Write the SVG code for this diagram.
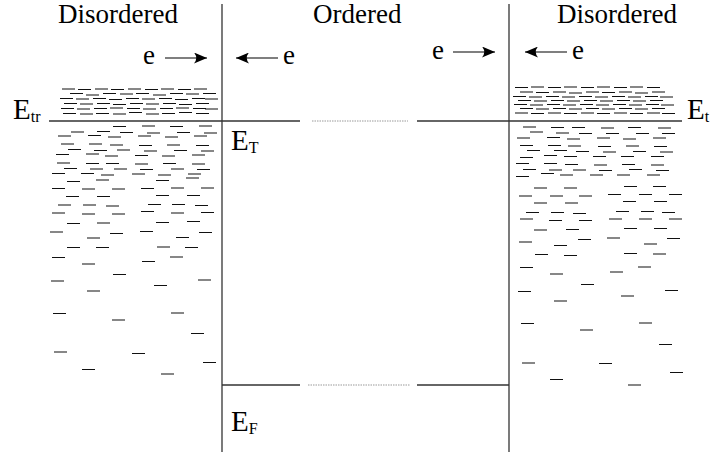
<svg xmlns="http://www.w3.org/2000/svg" width="710" height="452" viewBox="0 0 710 452">
  <style>
    .t { font-family: "Liberation Serif", "Times New Roman", serif; fill: #000; }
    .big { font-size: 27px; }
    .E { font-size: 29px; }
    .sub { font-size: 16px; }
    .wall { stroke: #333; stroke-width: 1.3; fill: none; }
    .level { stroke: #333; stroke-width: 1.3; fill: none; }
    .gap { stroke: #999; stroke-width: 1; stroke-dasharray: 1.5 1; fill: none; }
    .states { stroke: #111; stroke-width: 1.2; fill: none; }
    .shaft { stroke: #000; stroke-width: 1.2; fill: none; }
  </style>
  <defs>
    <marker id="head" viewBox="0 0 13 11" refX="13" refY="5.5" markerWidth="13" markerHeight="11" markerUnits="userSpaceOnUse" orient="auto">
      <path d="M13,5.5 L0,0 Q4.5,5.5 0,11 Z" fill="#000"/>
    </marker>
  </defs>
  <rect width="710" height="452" fill="#fff"/>

  <!-- region titles -->
  <g id="titles">
    <text class="t big" x="58" y="23">Disordered</text>
    <text class="t big" x="313" y="23">Ordered</text>
    <text class="t big" x="557" y="23">Disordered</text>
  </g>

  <!-- interfaces between the regions -->
  <g id="interfaces">
    <line class="wall" x1="222" y1="4" x2="222" y2="452"/>
    <line class="wall" x1="509" y1="4" x2="509" y2="452"/>
  </g>

  <!-- transport level and Fermi level -->
  <g id="levels">
    <line class="level" x1="49" y1="121" x2="300" y2="121"/>
    <line class="gap" x1="312" y1="121" x2="408" y2="121"/>
    <line class="level" x1="417" y1="121" x2="682" y2="121"/>
    <line class="level" x1="222" y1="385" x2="300" y2="385"/>
    <line class="gap" x1="308" y1="385" x2="410" y2="385"/>
    <line class="level" x1="417" y1="385" x2="509" y2="385"/>
  </g>

  <!-- level labels -->
  <g id="level-labels">
    <text class="t E" x="13" y="119">E<tspan class="sub" dy="3">tr</tspan></text>
    <text class="t E" x="231" y="150">E<tspan class="sub" dy="3">T</tspan></text>
    <text class="t E" x="231" y="431">E<tspan class="sub" dy="3">F</tspan></text>
    <text class="t E" x="687" y="119">E<tspan class="sub" dy="3">t</tspan></text>
  </g>

  <!-- electron flow towards the interfaces -->
  <g id="electrons">
    <text class="t big" x="143" y="63.5">e</text>
    <line class="shaft" x1="165" y1="58" x2="207" y2="58" marker-end="url(#head)"/>
    <line class="shaft" x1="278" y1="58" x2="236" y2="58" marker-end="url(#head)"/>
    <text class="t big" x="283" y="63.5">e</text>
    <text class="t big" x="432" y="58.5">e</text>
    <line class="shaft" x1="453" y1="52" x2="495" y2="52" marker-end="url(#head)"/>
    <line class="shaft" x1="567" y1="52" x2="525" y2="52" marker-end="url(#head)"/>
    <text class="t big" x="572" y="58.5">e</text>
  </g>

  <!-- localized states, left disordered region -->
  <g id="states-left">
    <path class="states" d="
      M62 89h13 M78 89.5h13 M95 89h13 M111 89.5h13 M128 89h13 M145 89.5h13 M161 89h13 M178 89.5h13 M194 89h13
      M70 93.5h13 M86 95h13 M103 93.5h13 M120 94h13 M136 93.5h13 M153 95h13 M170 93.5h13 M186 94h13 M203 93.5h13
      M60 98.5h13 M76 99h13 M93 98.5h13 M109 99.5h13 M126 98.5h13 M142 99h13 M159 98.5h13 M175 99.5h13 M192 98.5h13 M205 99h13
      M64 103.5h13 M80 104h13 M97 103.5h13 M113 104.5h13 M130 103.5h13 M146 104h13 M163 103.5h13 M179 104.5h13 M196 103.5h13
      M61 108.5h13 M77 109h13 M94 108.5h13 M110 108h13 M127 108.5h13 M143 109h13 M160 108.5h13 M176 108h13 M193 108.5h13 M205 109h13
      M63 113.5h13 M80 114h13 M96 113.5h13 M113 114h13 M129 112.5h13 M146 114h13 M162 113.5h13 M179 112.5h13 M196 113.5h13
      M113 126.5h13 M142 126h13 M170 126.5h13 M199 126h13
      M71 132h13 M97 131.5h13 M120 132.5h13 M147 133h13 M177 132.5h13 M204 133h13
      M58 136h13 M88 135.5h13 M108 137h13 M138 136h13 M165 137h13 M194 136h13
      M61 144h13 M89 144h13 M110 145h13 M139 145.5h13 M167 145h13 M196 145.5h13
      M68 149.5h13 M94 150.5h13 M117 150h13 M144 151h13 M174 150.5h13 M201 151h13
      M56 154.5h13 M86 154h13 M105 156h13 M135 155.5h13 M162 156h13 M192 155h13
      M57 163h13 M86 163.5h13 M106 163.5h13 M135 164h13 M163 163.5h13 M192 164h13
      M64 168.5h13 M90 169h13 M114 169h13 M140 169.5h13 M171 169h13 M197 169.5h13
      M52 173.5h13 M81 173.5h13 M101 175h13 M132 174h13 M158 175h13 M188 174h13
      M186 178h13 M96 180h13 M156 180.5h13 M67 181.5h13
      M52 188.5h13 M82 189h13 M112 189h13 M141 188.5h13 M171 188h13 M201 188h13
      M66 196.5h13 M97 196.5h13 M156 195.5h13 M187 195.5h13
      M58 205h13 M83 205h13 M106 206h13 M148 204.5h13 M172 204.5h13 M195 205.5h13
      M52 213h13 M82 214h13 M112 214h13 M141 211.5h13 M171 213h13 M201 212.5h13
      M156 222.5h13 M187 221.5h13 M67 223.5h13 M97 223h13
      M50 232h13 M140 231.5h13 M199 232.5h13 M110 233.5h13 M176 237.5h13 M87 238h13
      M67 247.5h13 M96 247.5h13 M157 247h13 M185 247.5h13
      M52 257.5h13 M170 257h13 M142 261.5h13 M82 264h13
      M113 274.5h13 M51 281h13 M198 280h13 M154 285.5h13 M87 291h13
      M53 313.5h13 M171 313h13 M112 320h13 M191 333.5h13
      M54 352h13 M132 353.5h13 M203 362.5h13 M82 369.5h13 M161 374h13"/>
  </g>

  <!-- localized states, right disordered region -->
  <g id="states-right">
    <path class="states" d="
      M515 87.5h13 M531 87h13 M548 87.5h13 M564 87h13 M581 87.5h13 M597 87h13 M614 87.5h13 M630 87h13 M647 87.5h13
      M520 92h13 M536 92.5h13 M553 92h13 M569 93h13 M586 92h13 M602 92.5h13 M619 92h13 M635 93h13 M652 92h13
      M513 96.5h13 M529 97h13 M546 96.5h13 M562 97h13 M579 96.5h13 M595 97h13 M612 96.5h13 M628 97h13 M645 96.5h13 M660 97h13
      M518 100.5h13 M534 101h13 M551 100.5h13 M567 101h13 M584 100.5h13 M600 101h13 M617 100.5h13 M633 101h13 M650 100.5h13
      M514 104.5h13 M530 105h13 M547 104.5h13 M563 105h13 M580 104.5h13 M596 105h13 M613 104.5h13 M629 105h13 M646 104.5h13 M661 105h13
      M520 108.5h13 M536 109h13 M553 108.5h13 M569 109h13 M586 108.5h13 M602 109h13 M619 108.5h13 M635 109h13 M652 108.5h13
      M515 113h13 M531 113.5h13 M548 113h13 M564 113.5h13 M581 113h13 M597 113.5h13 M614 113h13 M630 113.5h13 M647 113h13 M662 113.5h13
      M523 127h13 M551 127.5h13 M572 127.5h13 M601 128h13 M628 127.5h13 M658 128h13
      M530 132h13 M556 133h13 M579 133.5h13 M606 133.5h13 M636 133.5h13 M662 133.5h13
      M517 138h13 M547 137.5h13 M567 139h13 M597 138h13 M623 139h13 M653 138h13
      M520 145.5h13 M548 145.5h13 M568 146h13 M598 146.5h13 M626 146h13 M654 146.5h13
      M527 150.5h13 M554 150.5h13 M576 151.5h13 M603 152h13 M633 151.5h13 M660 152h13
      M544 155.5h13 M520 157.5h13 M564 156.5h13 M593 156.5h13 M621 156.5h13 M651 156.5h13
      M516 163.5h13 M544 163.5h13 M565 164.5h13 M594 165h13 M622 164.5h13 M651 165h13
      M523 169.5h13 M549 170h13 M573 170h13 M599 170.5h13 M629 169.5h13 M656 170.5h13
      M541 173.5h13 M560 175h13 M590 175h13 M617 175h13 M647 175h13 M516 176.5h13
      M624 186.5h13 M653 186.5h13 M534 188h13 M564 188h13
      M608 194.5h13 M639 194.5h13 M669 194.5h13 M519 196h13 M550 196h13 M579 196h13
      M623 201.5h13 M654 201.5h13 M534 203h13 M565 203h13
      M616 211.5h13 M641 211.5h13 M526 212.5h13 M551 212.5h13 M662 212.5h13 M573 213.5h13
      M520 219h13 M609 219h13 M639 219h13 M669 219h13 M549 220.5h13 M579 220.5h13
      M624 228.5h13 M654 228.5h13 M566 229.5h13 M534 230h13
      M607 238h13 M667 238.5h13 M578 239.5h13 M519 242h13 M644 244h13 M554 245.5h13
      M624 253.5h13 M653 254h13 M535 254.5h13 M564 255.5h13
      M638 267h13 M520 267.5h13 M610 272h13 M550 274h13
      M581 284.5h13 M665 290.5h13 M518 291.5h13 M621 296h13 M554 301h13
      M521 323.5h13 M639 323h13 M580 330h13 M659 344.5h13
      M522 363h13 M599 363.5h13 M670 372.5h13 M550 379.5h13 M628 385h13"/>
  </g>
</svg>
